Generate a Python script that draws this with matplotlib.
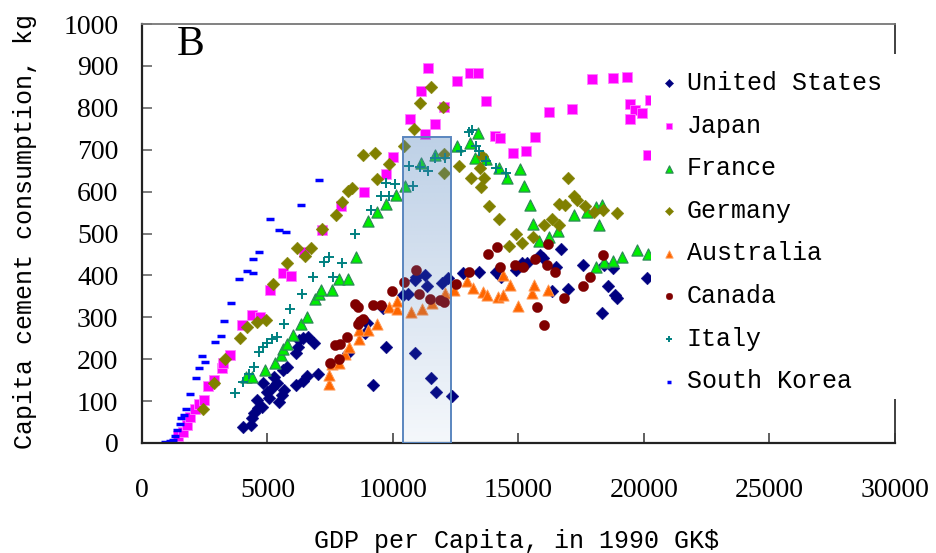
import numpy as np
import matplotlib
matplotlib.use("Agg")
import matplotlib.pyplot as plt
from matplotlib.patches import Rectangle
from matplotlib.font_manager import FontProperties

# GDP per capita (1990 GK$) and per-capita cement consumption (kg)
us_gdp = [4036, 4323, 4370, 4462, 4570, 4633, 4769, 4833, 4968, 5072, 5167, 5259, 5366, 5470, 5566,
          5657, 5606, 5765, 6135, 6227, 6267, 6426, 6602, 6864, 6135, 6426, 6586, 7024, 8227, 8884,
          8952, 9191, 9733, 9590, 10410, 10610, 10876, 10916, 11275, 11342, 10888, 11502, 11701, 12339,
          11940, 12203, 12777, 13438, 14084, 14283, 14900, 15127, 15327, 15869, 15964, 16506, 16681,
          16972, 16323, 17582, 18315, 18558, 18845, 18936, 18406, 18777, 20107]
us_cement = [39, 43, 59, 72, 103, 83, 87, 144, 122, 107, 131, 158, 143, 99, 115,
             127, 174, 182, 214, 230, 246, 250, 252, 239, 138, 149, 161, 165, 215, 262,
             287, 138, 229, 322, 353, 356, 389, 397, 401, 375, 214, 156, 122, 113,
             383, 393, 405, 407, 409, 397, 414, 429, 429, 449, 441, 421, 462,
             368, 363, 426, 310, 375, 353, 345, 426, 417, 393]

jp_gdp = [1422, 1645, 1805, 1912, 2100, 2271, 2458, 2629, 2880, 3187, 3227, 3494, 3996, 4382, 4713,
          5100, 5629, 5936, 6474, 7159, 7948, 8857, 9709, 10012, 10677, 11116, 11406, 11287, 11661,
          12012, 12569, 13087, 13406, 13717, 14044, 14275, 14761, 15307, 15677, 16223, 17139, 17928,
          18777, 19322, 19442, 19661, 19932, 19442, 20147, 20239]
jp_cement = [17, 27, 43, 61, 81, 92, 103, 137, 150, 178, 190, 210, 282, 305, 301,
             365, 405, 399, 457, 508, 565, 598, 643, 682, 773, 839, 896, 738, 761,
             802, 864, 882, 882, 817, 733, 729, 693, 697, 730, 791, 798, 868,
             871, 874, 809, 794, 787, 773, 687, 819]

fr_gdp = [4143, 4382, 4920, 5287, 5518, 5617, 5757, 6016, 6315, 6574, 6912, 7040, 7131, 7550, 7856,
          8219, 8513, 9004, 9382, 9729, 10111, 10486, 11127, 11685, 12538, 13067, 13398, 13255, 13717,
          14235, 14530, 15040, 15219, 15458, 15585, 15836, 16203, 16558, 17219, 17717, 18068, 18319,
          18199, 18087, 18406, 18757, 19112, 19713, 20171]
fr_cement = [158, 158, 174, 192, 211, 224, 236, 257, 283, 301, 344, 356, 364, 364, 392,
             392, 444, 530, 552, 570, 593, 614, 668, 688, 709, 715, 741, 681, 677,
             656, 633, 653, 613, 567, 523, 482, 492, 505, 543, 551, 563, 568,
             520, 421, 431, 434, 444, 461, 452]

de_gdp = [2430, 2857, 3307, 3892, 4203, 4570, 4940, 5231, 5777, 6175, 6506, 6745, 7171, 7729, 7968,
          8207, 8366, 8817, 9263, 9362, 9852, 10458, 10825, 11076, 11502, 12004, 12044, 12044, 12649,
          13107, 13625, 13506, 13546, 13466, 13805, 14235, 14602, 14900, 15151, 15578, 16008, 16315,
          16626, 16594, 16853, 16984, 17211, 17323, 17657, 18016, 18367, 18924]
de_cement = [80, 143, 201, 251, 276, 288, 294, 379, 429, 466, 446, 466, 510, 545, 575,
             602, 608, 687, 692, 629, 666, 710, 750, 811, 850, 801, 689, 644, 662,
             633, 633, 611, 685, 656, 565, 534, 469, 499, 478, 491, 520, 535,
             520, 571, 567, 633, 590, 581, 565, 551, 556, 550]

au_gdp = [7462, 7462, 7550, 7837, 8088, 8247, 8657, 8637, 9016, 9358, 9860, 10179, 10147, 10717, 11143,
          11554, 12091, 12418, 12948, 13175, 13573, 13745, 14183, 14382, 14370, 14681, 14980, 15525,
          15637, 16187]
au_cement = [141, 162, 189, 192, 212, 230, 248, 270, 270, 284, 325, 319, 340, 313, 320,
             333, 358, 366, 387, 369, 360, 353, 349, 354, 402, 378, 326, 357,
             378, 364]

ca_gdp = [7490, 7837, 7709, 7900, 8167, 8586, 8685, 8785, 8498, 8605, 9215, 9514, 9948, 10438, 10916,
          11044, 11462, 11892, 12032, 12510, 13040, 13777, 14143, 14275, 14880, 15191, 15669, 16163,
          16155, 16474, 15737, 16028, 16813, 17562, 17861, 18347]
ca_cement = [191, 201, 233, 236, 253, 283, 292, 297, 332, 325, 329, 329, 362, 384, 414,
             356, 343, 341, 337, 380, 409, 450, 468, 420, 424, 419, 438, 475,
             424, 409, 325, 282, 347, 375, 395, 449]

it_gdp = [3717, 4036, 4263, 4450, 4673, 4829, 5000, 5187, 5363, 5657, 5908, 6355, 6821, 7602, 7239,
          7462, 7980, 8470, 9116, 9514, 9860, 9729, 10080, 10785, 10645, 11064, 11394, 11693, 12072,
          12721, 13167, 13028, 13287, 13446, 13717, 14116, 14514]
it_cement = [119, 146, 164, 182, 218, 230, 239, 248, 254, 284, 319, 356, 396, 396, 433,
             445, 429, 498, 556, 590, 590, 620, 617, 614, 662, 659, 650, 680, 680,
             698, 746, 743, 710, 697, 674, 656, 644]

kr_gdp = [916, 1116, 1247, 1315, 1406, 1502, 1542, 1661, 1753, 1924, 2163, 2283, 2522, 2402,
          2896, 3135, 3255, 3557, 3864, 4410, 4195, 4434, 4661, 5088, 5446, 5749, 6354, 7039]
kr_cement = [3, 5, 7, 17, 31, 45, 59, 67, 81, 117, 154, 180, 194, 208,
             242, 256, 291, 333, 391, 405, 411, 438, 457, 535, 508, 504, 569, 627]

countries = ["United States", "Japan", "France", "Germany", "Australia", "Canada", "Italy", "South Korea"]
x_ticks = [0, 5000, 10000, 15000, 20000, 25000, 30000]
y_ticks = [0, 100, 200, 300, 400, 500, 600, 700, 800, 900, 1000]

# highlighted GDP band (x range) and its height
band_gdp = [10400, 12300]
band_top = 730

series = [
    (us_gdp, us_cement, dict(marker="D", s=42, c="#000080", edgecolors="#000080", linewidths=0.3)),
    (jp_gdp, jp_cement, dict(marker="s", s=46, c="#ff00ff", edgecolors="#ff80ff", linewidths=0.6)),
    (fr_gdp, fr_cement, dict(marker="^", s=64, c="#00ee00", edgecolors="#2e8b57", linewidths=0.9)),
    (de_gdp, de_cement, dict(marker="D", s=42, c="#808000", edgecolors="#808000", linewidths=0.3)),
    (au_gdp, au_cement, dict(marker="^", s=64, c="#ff6600", edgecolors="#ff9955", linewidths=0.7)),
    (ca_gdp, ca_cement, dict(marker="o", s=54, c="#800000", edgecolors="#800000", linewidths=0.3)),
    (it_gdp, it_cement, dict(marker="+", s=58, c="#008080", linewidths=1.4)),
    (kr_gdp, kr_cement, dict(marker="_", s=28, c="#0000ff", linewidths=2.5)),
]

fig = plt.figure(figsize=(9.37, 5.53), dpi=100)
ax = fig.add_axes([142 / 937, 110 / 553, 753 / 937, 419 / 553])

handles = []
for (gx, cy, style), name in zip(series, countries):
    h = ax.scatter(gx, cy, label=name, zorder=2, **style)
    handles.append(h)

# translucent gradient band over the points
t = np.linspace(0, 1, 256)[:, None]
rgba = np.zeros((256, 1, 4))
rgba[..., 0] = 79 / 255
rgba[..., 1] = 129 / 255
rgba[..., 2] = 189 / 255
rgba[..., 3] = 0.37 - 0.31 * t
ax.imshow(rgba, extent=[band_gdp[0], band_gdp[1], 0, band_top], aspect="auto",
          origin="upper", interpolation="bilinear", zorder=3)
ax.add_patch(Rectangle((band_gdp[0], 0), band_gdp[1] - band_gdp[0], band_top,
                       fill=False, ec="#5a86bf", lw=1.4, zorder=3.2))

ax.set_xlim(0, 30000)
ax.set_ylim(0, 1000)
ax.set_xticks(x_ticks)
ax.set_yticks(y_ticks)

tick_font = FontProperties(family="Liberation Serif", size=20)
for lab in ax.get_xticklabels() + ax.get_yticklabels():
    lab.set_fontproperties(tick_font)
ax.tick_params(axis="y", direction="in", length=7, width=1.2, color="#666666", pad=17)
ax.tick_params(axis="x", direction="in", length=7, width=1.2, color="#444444", pad=25)

for side, lw, col in [("left", 1.6, "#222222"), ("bottom", 1.6, "#222222"),
                      ("top", 1.3, "#777777"), ("right", 1.3, "#333333")]:
    ax.spines[side].set_linewidth(lw)
    ax.spines[side].set_color(col)

label_font = FontProperties(family="Liberation Mono", size=18)
ax.set_xlabel("GDP per Capita, in 1990 GK$", fontproperties=label_font)
ax.set_ylabel("Capita cement consumption, kg", fontproperties=label_font)
ax.xaxis.label.set_va("center")
ax.yaxis.label.set_va("center")
ax.xaxis.set_label_coords(0.498, -0.234)
ax.yaxis.set_label_coords(-0.155, 0.505)

ax.text(0.065, 0.95, "B", transform=ax.transAxes, ha="center", va="center",
        fontsize=30, family="Liberation Serif")

# white panel behind the legend
ax.add_patch(Rectangle((0.676, 0.105), 0.33, 0.823, transform=ax.transAxes,
                       fc="white", ec="none", zorder=4, clip_on=False))
leg = ax.legend(handles=handles, loc="upper left", bbox_to_anchor=(0.687, 0.888),
                frameon=False, prop=label_font, borderaxespad=0, borderpad=0,
                handlelength=0.8, handletextpad=0.3, labelspacing=0.745,
                markerscale=0.65, scatterpoints=1)
leg.set_zorder(5)

fig.savefig("out.png", dpi=100)
